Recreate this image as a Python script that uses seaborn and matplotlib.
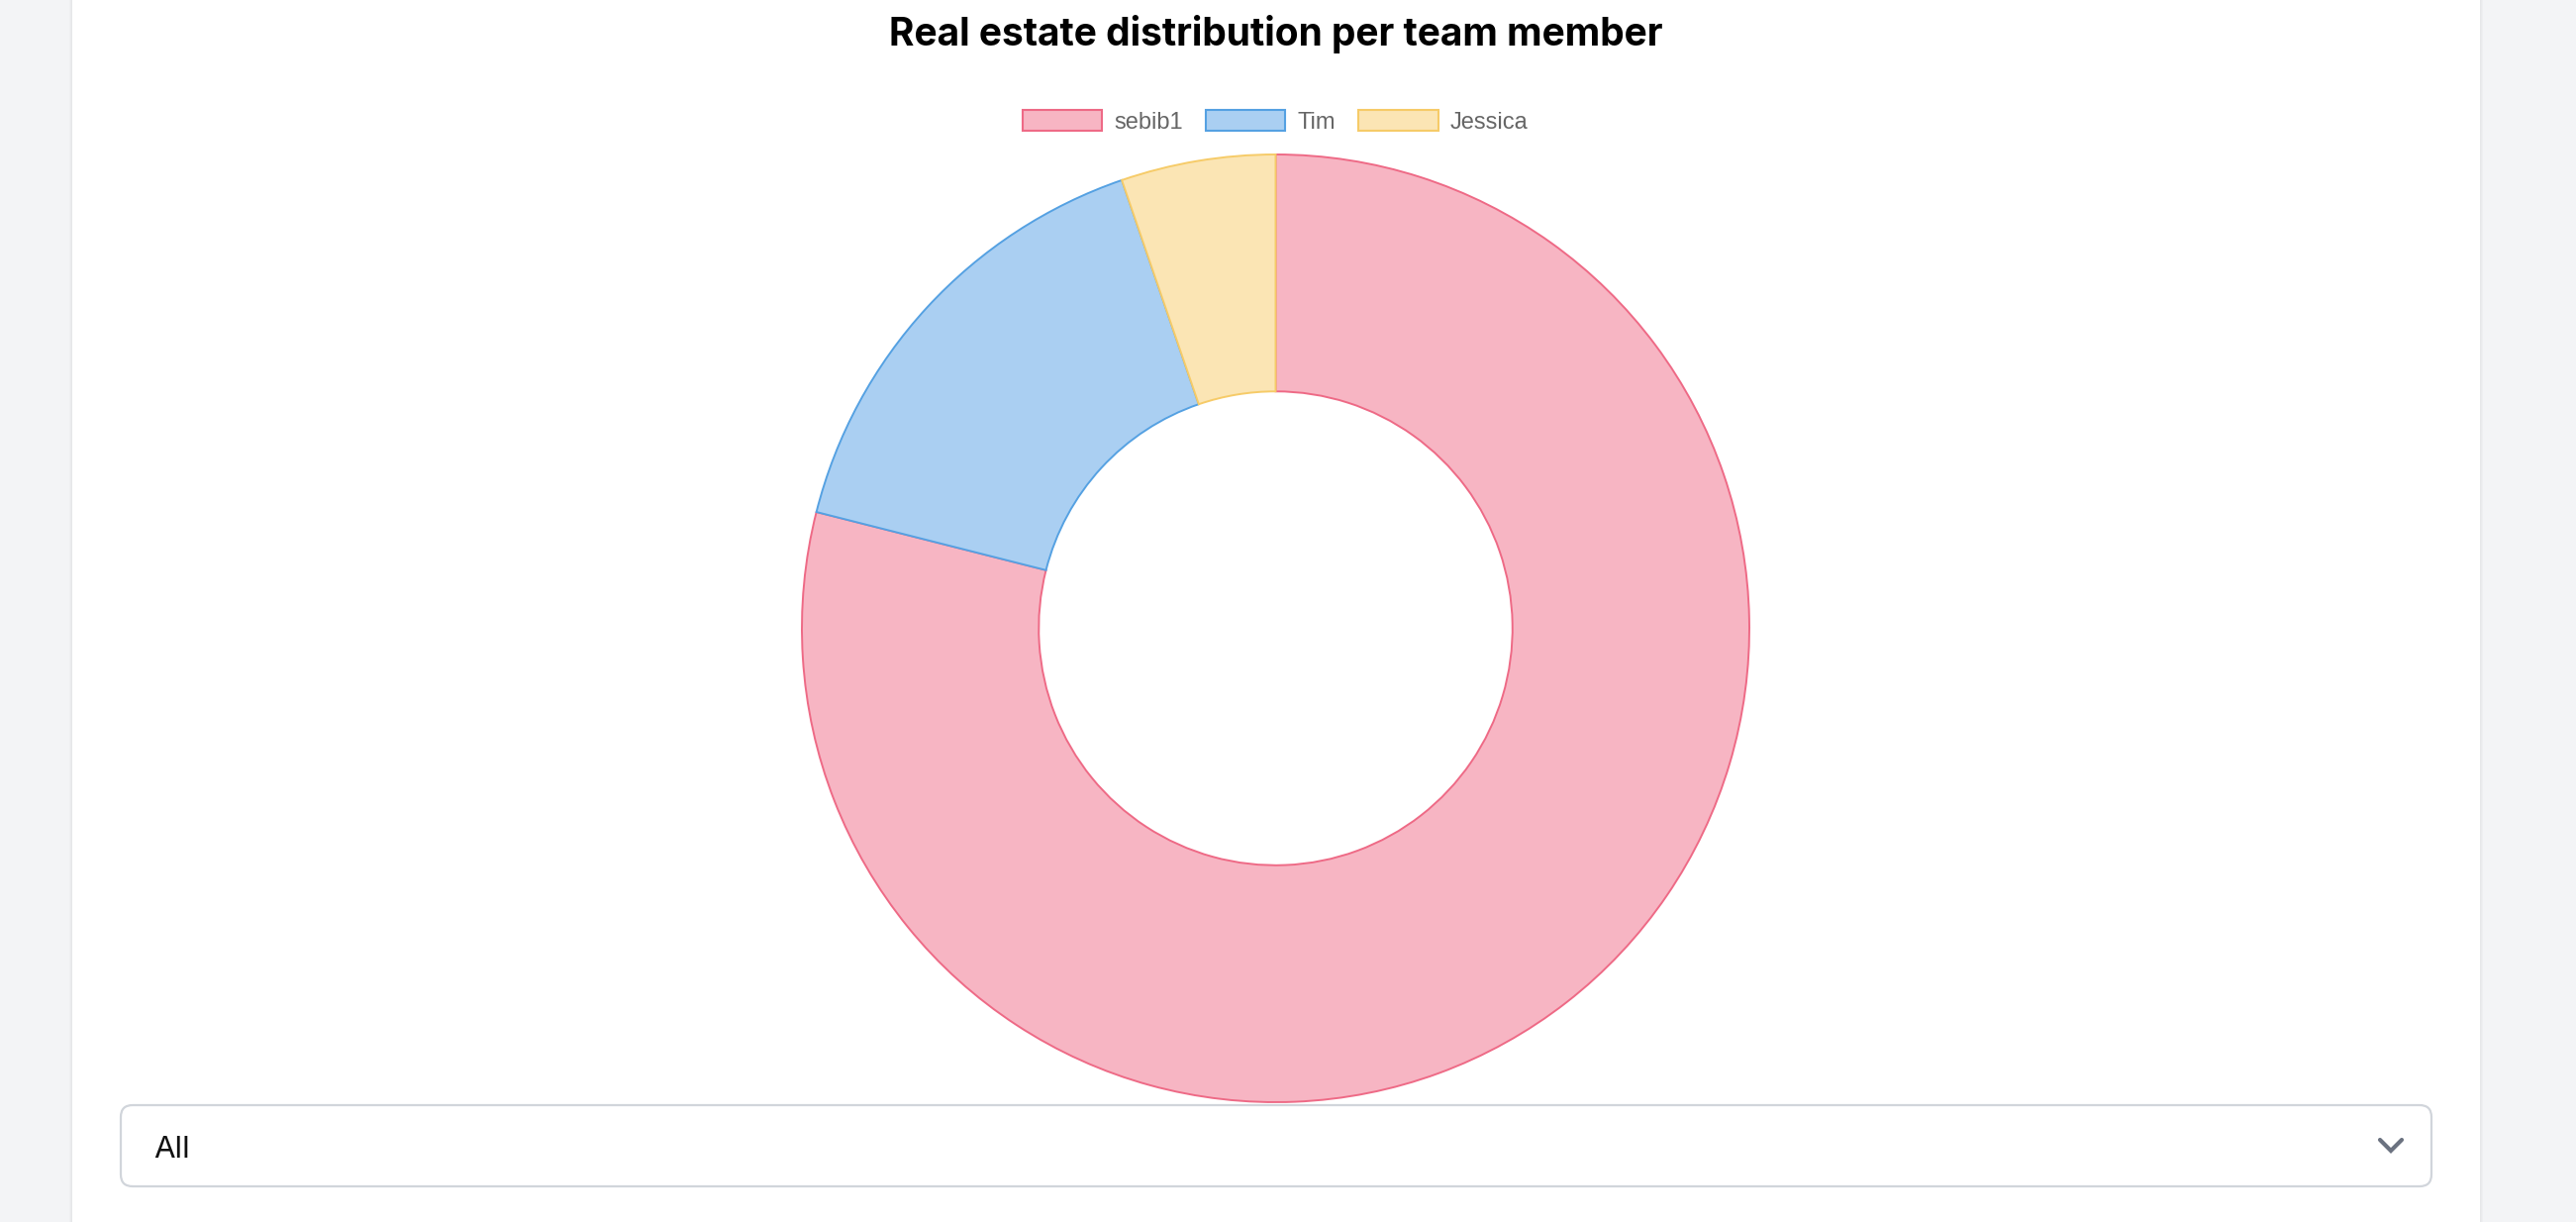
import matplotlib
matplotlib.use("Agg")
import matplotlib.pyplot as plt
import seaborn as sns
from matplotlib.patches import Rectangle, FancyBboxPatch, Patch

# Data
members = ["sebib1", "Tim", "Jessica"]
properties = [15, 3, 1]
border_colors = ["#EE6A86", "#55A1E2", "#F6CB68"]
fill_colors = ["#F7B5C3", "#AACFF2", "#FBE5B4"]
title = "Real estate distribution per team member"
filter_label = "All"

W, H = 2602, 1234

sns.set_theme(style="white")
plt.rcParams['font.family'] = ['Inter', 'DejaVu Sans']

fig = plt.figure(figsize=(W / 100, H / 100), dpi=100)
fig.patch.set_facecolor("#F3F4F6")

# Page background axes in pixel coordinates (y from top)
bg = fig.add_axes([0, 0, 1, 1])
bg.set_xlim(0, W)
bg.set_ylim(H, 0)
bg.axis("off")

# card shadow + white card
for i, a in enumerate([0.05, 0.035, 0.02]):
    bg.add_patch(Rectangle((73 - i - 1, 0), 1, H, color="black", alpha=a, lw=0))
    bg.add_patch(Rectangle((2505 + i, 0), 1, H, color="black", alpha=a, lw=0))
bg.add_patch(Rectangle((73, 0), 2505 - 73, H, color="white", lw=0))

# select box at the bottom
bg.add_patch(FancyBboxPatch((122 + 12, 1116 + 12), 2456 - 122 - 24, 1198 - 1116 - 24,
                            boxstyle="round,pad=12", facecolor="white",
                            edgecolor="#D1D5DB", linewidth=1.6))
bg.text(155, 1169, filter_label, fontsize=22.5, color="#111111", va="baseline", ha="left")
bg.plot([2404, 2415, 2426], [1151, 1162, 1151], color="#6B7280", lw=3,
        solid_capstyle="round", solid_joinstyle="miter")

# title
fig.text(1289 / W, 1 - 45.7 / H, title, fontsize=28, fontweight="bold",
         color="black", ha="center", va="baseline")

# donut
cx, cy, R = 1288.5, 634.5, 478.5
ax = fig.add_axes([(cx - R) / W, (H - cy - R) / H, 2 * R / W, 2 * R / H], zorder=3)
wedges, _ = ax.pie(properties, startangle=90, counterclock=False, radius=1,
                   colors=fill_colors,
                   wedgeprops=dict(width=0.5, linewidth=1.4))
for w, c in zip(wedges, border_colors):
    w.set_edgecolor(c)
ax.set_xlim(-1, 1)
ax.set_ylim(-1, 1)
ax.set_aspect("equal")
ax.axis("off")

# legend
handles = [Patch(facecolor=f, edgecolor=b, linewidth=1.5) for f, b in zip(fill_colors, border_colors)]
leg = fig.legend(handles, members, loc="center", bbox_to_anchor=(1288 / W, 1 - 122.7 / H),
                 ncol=3, frameon=False, handlelength=3.4, handleheight=1.0,
                 handletextpad=0.5, columnspacing=1.0,
                 prop={"family": ["Liberation Sans", "DejaVu Sans"], "size": 17})
for t in leg.get_texts():
    t.set_color("#666666")

fig.savefig("out.png", dpi=100, facecolor=fig.get_facecolor())
